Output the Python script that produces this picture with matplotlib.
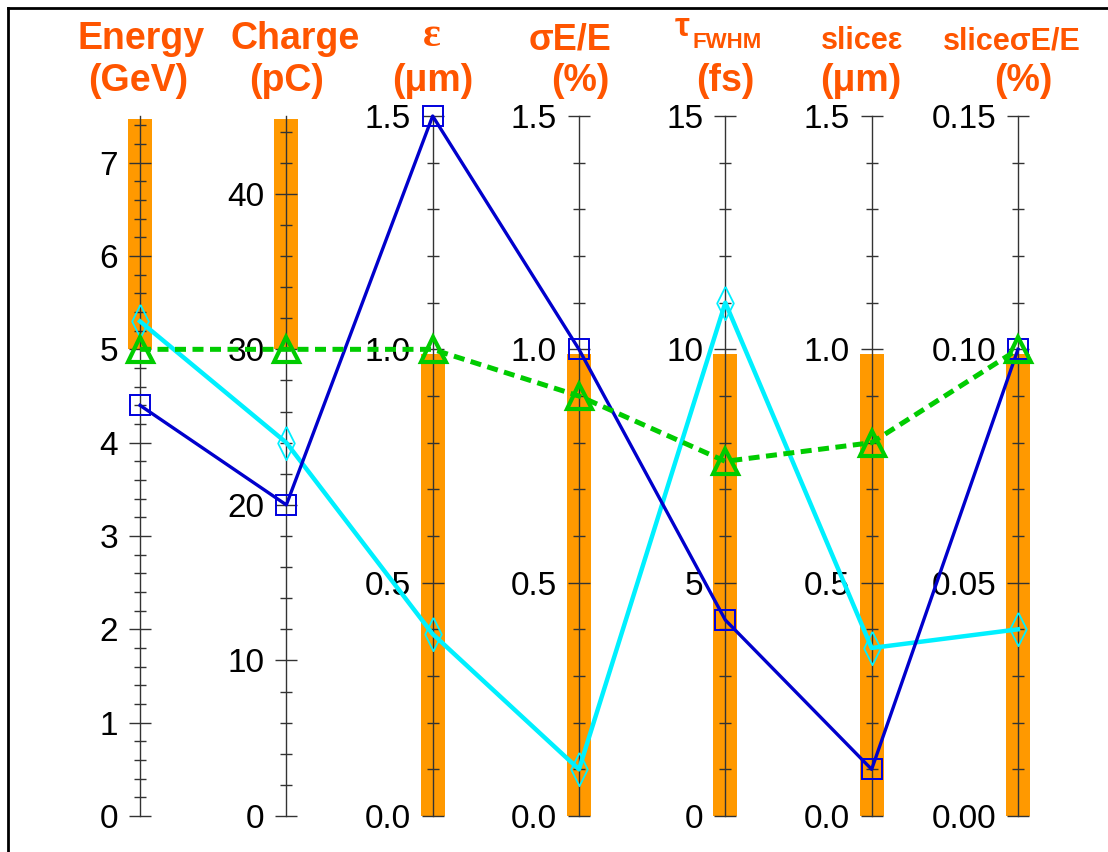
import numpy as np
import matplotlib
matplotlib.use("Agg")
import matplotlib.pyplot as plt
from matplotlib.ticker import MultipleLocator, FormatStrFormatter
from matplotlib.lines import Line2D

plt.rcParams['font.family'] = ['Liberation Sans', 'DejaVu Sans']

# one vertical axis per beam parameter
names = ['Energy', 'Charge', 'ε', 'σE/E', 'τ', 'sliceε', 'sliceσE/E']
units = ['(GeV)', '(pC)', '(μm)', '(%)', '(fs)', '(μm)', '(%)']
axis_max = [7.5, 45, 1.5, 1.5, 15, 1.5, 0.15]
major_step = [1, 10, 0.5, 0.5, 5, 0.5, 0.05]
minor_step = [0.2, 2, 0.1, 0.1, 1, 0.1, 0.01]
tick_fmt = ['%d', '%d', '%.1f', '%.1f', '%d', '%.1f', '%.2f']

# orange target windows
band_lo = [5.0, 30, 0.0, 0.0, 0.0, 0.0, 0.0]
band_hi = [7.47, 44.8, 0.99, 0.99, 9.9, 0.99, 0.099]

# working points
case_blue = [4.4, 20, 1.5, 1.0, 4.2, 0.10, 0.10]
case_cyan = [5.3, 24, 0.39, 0.10, 11.0, 0.36, 0.04]
case_green = [5.0, 30, 1.0, 0.9, 7.6, 0.8, 0.10]

W, H = 1108, 852
x0, dx = 140, 146.33      # pixel position of first axis and spacing
y0, hgt = 36, 700         # axis bottom (from figure bottom) and height

fig = plt.figure(figsize=(W / 100, H / 100), dpi=100)
fig.patch.set_facecolor('white')

xl = (-x0 / dx, 6 + (W - x0 - 6 * dx) / dx)
yl = (-y0 / hgt, (H - y0) / hgt)
n = len(names)
xs = np.arange(n)
amax = np.array(axis_max)

# background layer: target bands
ax_bg = fig.add_axes([0, 0, 1, 1])
ax_bg.set_xlim(*xl)
ax_bg.set_ylim(*yl)
ax_bg.axis('off')
lo = np.array(band_lo) / amax
hi = np.array(band_hi) / amax
ax_bg.bar(xs, hi - lo, bottom=lo, width=24 / dx, color='#FF9900', linewidth=0)

# the parallel axes themselves
for i in range(n):
    a = fig.add_axes([(x0 + i * dx) / W, y0 / H, 0.0001, hgt / H])
    a.patch.set_visible(False)
    for s in ['top', 'right', 'bottom']:
        a.spines[s].set_visible(False)
    a.spines['left'].set_color('#333333')
    a.spines['left'].set_linewidth(1)
    a.set_xticks([])
    a.set_ylim(0, axis_max[i])
    a.yaxis.set_major_locator(MultipleLocator(major_step[i]))
    a.yaxis.set_minor_locator(MultipleLocator(minor_step[i]))
    a.yaxis.set_major_formatter(FormatStrFormatter(tick_fmt[i]))
    a.tick_params(axis='y', which='major', direction='inout', length=15.6,
                  width=1, color='#333333', pad=8, labelsize=24)
    a.tick_params(axis='y', which='minor', direction='inout', length=8.4,
                  width=1, color='#333333')

# top layer: the three cases
ax = fig.add_axes([0, 0, 1, 1])
ax.set_xlim(*xl)
ax.set_ylim(*yl)
ax.axis('off')
ax.patch.set_visible(False)

thin_diamond = [(0, 1), (0.5, 0), (0, -1), (-0.5, 0), (0, 1)]
ax.plot(xs, np.array(case_cyan) / amax, color='#00F0FF', lw=3.2,
        marker=thin_diamond, ms=24, mfc='none', mec='#00F0FF', mew=1.3,
        clip_on=False)
ax.plot(xs, np.array(case_blue) / amax, color='#0000CC', lw=2.4,
        marker='s', ms=14.5, mfc='none', mec='#0000DD', mew=1.4,
        clip_on=False)
ax.plot(xs, np.array(case_green) / amax, color='#00CC00', lw=3.6,
        ls=(0, (2.2, 1.3)), marker='^', ms=18, mfc='none', mec='#00CC00',
        mew=3, clip_on=False)

# column headings
name_cx = [141, 295, 432, 570, 718, 862, 1012]
unit_cx = [138, 287, 433, 580, 725, 861, 1023]
name_size = [27, 27, 30, 26, 24, 22, 22]
hc = '#FF5500'
for i in range(n):
    if names[i] == 'τ':
        fig.text(690 / W, 1 - 36 / H, 'τ', ha='right', va='baseline',
                 fontsize=name_size[i], fontweight='bold', color=hc)
        fig.text(692 / W, 1 - 48 / H, 'FWHM', ha='left', va='baseline',
                 fontsize=16, fontweight='bold', color=hc)
    elif names[i] == 'ε':
        fig.text(name_cx[i] / W, 1 - 46 / H, names[i], ha='center',
                 va='baseline', fontsize=name_size[i], fontweight='bold',
                 color=hc, family=['Liberation Serif', 'DejaVu Serif'])
    else:
        fig.text(name_cx[i] / W, 1 - 49 / H, names[i], ha='center',
                 va='baseline', fontsize=name_size[i], fontweight='bold',
                 color=hc)
    fig.text(unit_cx[i] / W, 1 - 91 / H, units[i], ha='center', va='baseline',
             fontsize=27, fontweight='bold', color=hc)

# frame along the top and left edges
fig.add_artist(Line2D([8 / W, 8 / W], [0, 1 - 8 / H], transform=fig.transFigure,
                      color='black', lw=2))
fig.add_artist(Line2D([8 / W, 1], [1 - 8 / H, 1 - 8 / H], transform=fig.transFigure,
                      color='black', lw=2))

fig.savefig('out.png', dpi=100)
